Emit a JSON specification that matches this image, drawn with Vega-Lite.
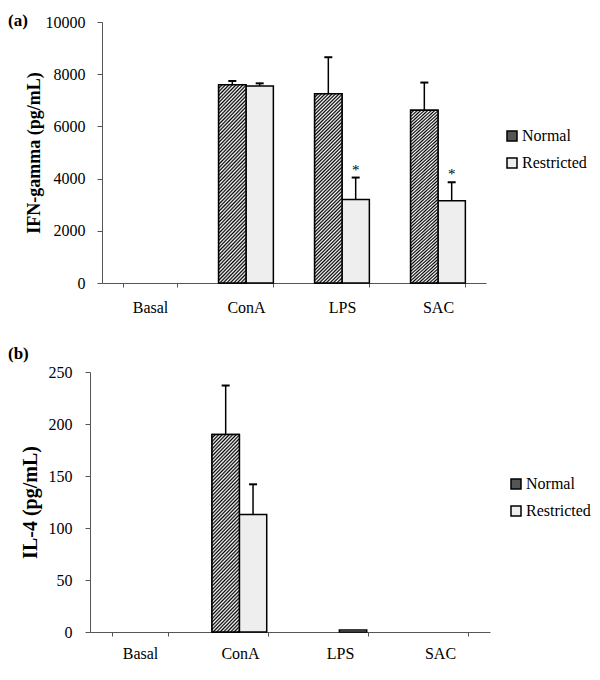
{
  "$schema": "https://vega.github.io/schema/vega-lite/v6.json",
  "background": "white",
  "padding": {"left": 8, "top": 12, "right": 5, "bottom": 5},
  "spacing": 30,
  "config": {
    "view": {"stroke": null},
    "font": "Liberation Serif",
    "axis": {"labelFont": "Liberation Serif", "labelFontSize": 16, "labelColor": "#000", "titleFont": "Liberation Serif", "titleFontWeight": "bold", "titleColor": "#000", "domainColor": "#555", "tickColor": "#555", "grid": false},
    "legend": {"orient": "none", "title": null, "symbolType": "square", "symbolSize": 100, "symbolStrokeColor": "#000", "symbolStrokeWidth": 1.5, "labelFont": "Liberation Serif", "labelFontSize": 16, "labelColor": "#000", "rowPadding": 11, "labelOffset": 2},
    "bar": {"fill": {"gradient": "linear", "x1": 0, "y1": 0, "x2": 0.16, "y2": 1.12, "stops": [
      {"offset": 0, "color": "#000"}, {"offset": 0.008, "color": "#fff"}, {"offset": 0.016, "color": "#000"}, {"offset": 0.024, "color": "#fff"},
      {"offset": 0.032, "color": "#000"}, {"offset": 0.04, "color": "#fff"}, {"offset": 0.048, "color": "#000"}, {"offset": 0.056, "color": "#fff"},
      {"offset": 0.064, "color": "#000"}, {"offset": 0.072, "color": "#fff"}, {"offset": 0.08, "color": "#000"}, {"offset": 0.088, "color": "#fff"},
      {"offset": 0.096, "color": "#000"}, {"offset": 0.104, "color": "#fff"}, {"offset": 0.112, "color": "#000"}, {"offset": 0.12, "color": "#fff"},
      {"offset": 0.128, "color": "#000"}, {"offset": 0.136, "color": "#fff"}, {"offset": 0.144, "color": "#000"}, {"offset": 0.152, "color": "#fff"},
      {"offset": 0.16, "color": "#000"}, {"offset": 0.168, "color": "#fff"}, {"offset": 0.176, "color": "#000"}, {"offset": 0.184, "color": "#fff"},
      {"offset": 0.192, "color": "#000"}, {"offset": 0.2, "color": "#fff"}, {"offset": 0.208, "color": "#000"}, {"offset": 0.216, "color": "#fff"},
      {"offset": 0.224, "color": "#000"}, {"offset": 0.232, "color": "#fff"}, {"offset": 0.24, "color": "#000"}, {"offset": 0.248, "color": "#fff"},
      {"offset": 0.256, "color": "#000"}, {"offset": 0.264, "color": "#fff"}, {"offset": 0.272, "color": "#000"}, {"offset": 0.28, "color": "#fff"},
      {"offset": 0.288, "color": "#000"}, {"offset": 0.296, "color": "#fff"}, {"offset": 0.304, "color": "#000"}, {"offset": 0.312, "color": "#fff"},
      {"offset": 0.32, "color": "#000"}, {"offset": 0.328, "color": "#fff"}, {"offset": 0.336, "color": "#000"}, {"offset": 0.344, "color": "#fff"},
      {"offset": 0.352, "color": "#000"}, {"offset": 0.36, "color": "#fff"}, {"offset": 0.368, "color": "#000"}, {"offset": 0.376, "color": "#fff"},
      {"offset": 0.384, "color": "#000"}, {"offset": 0.392, "color": "#fff"}, {"offset": 0.4, "color": "#000"}, {"offset": 0.408, "color": "#fff"},
      {"offset": 0.416, "color": "#000"}, {"offset": 0.424, "color": "#fff"}, {"offset": 0.432, "color": "#000"}, {"offset": 0.44, "color": "#fff"},
      {"offset": 0.448, "color": "#000"}, {"offset": 0.456, "color": "#fff"}, {"offset": 0.464, "color": "#000"}, {"offset": 0.472, "color": "#fff"},
      {"offset": 0.48, "color": "#000"}, {"offset": 0.488, "color": "#fff"}, {"offset": 0.496, "color": "#000"}, {"offset": 0.504, "color": "#fff"},
      {"offset": 0.512, "color": "#000"}, {"offset": 0.52, "color": "#fff"}, {"offset": 0.528, "color": "#000"}, {"offset": 0.536, "color": "#fff"},
      {"offset": 0.544, "color": "#000"}, {"offset": 0.552, "color": "#fff"}, {"offset": 0.56, "color": "#000"}, {"offset": 0.568, "color": "#fff"},
      {"offset": 0.576, "color": "#000"}, {"offset": 0.584, "color": "#fff"}, {"offset": 0.592, "color": "#000"}, {"offset": 0.6, "color": "#fff"},
      {"offset": 0.608, "color": "#000"}, {"offset": 0.616, "color": "#fff"}, {"offset": 0.624, "color": "#000"}, {"offset": 0.632, "color": "#fff"},
      {"offset": 0.64, "color": "#000"}, {"offset": 0.648, "color": "#fff"}, {"offset": 0.656, "color": "#000"}, {"offset": 0.664, "color": "#fff"},
      {"offset": 0.672, "color": "#000"}, {"offset": 0.68, "color": "#fff"}, {"offset": 0.688, "color": "#000"}, {"offset": 0.696, "color": "#fff"},
      {"offset": 0.704, "color": "#000"}, {"offset": 0.712, "color": "#fff"}, {"offset": 0.72, "color": "#000"}, {"offset": 0.728, "color": "#fff"},
      {"offset": 0.736, "color": "#000"}, {"offset": 0.744, "color": "#fff"}, {"offset": 0.752, "color": "#000"}, {"offset": 0.76, "color": "#fff"},
      {"offset": 0.768, "color": "#000"}, {"offset": 0.776, "color": "#fff"}, {"offset": 0.784, "color": "#000"}, {"offset": 0.792, "color": "#fff"},
      {"offset": 0.8, "color": "#000"}, {"offset": 0.808, "color": "#fff"}, {"offset": 0.816, "color": "#000"}, {"offset": 0.824, "color": "#fff"},
      {"offset": 0.832, "color": "#000"}, {"offset": 0.84, "color": "#fff"}, {"offset": 0.848, "color": "#000"}, {"offset": 0.856, "color": "#fff"},
      {"offset": 0.864, "color": "#000"}, {"offset": 0.872, "color": "#fff"}, {"offset": 0.88, "color": "#000"}, {"offset": 0.888, "color": "#fff"},
      {"offset": 0.896, "color": "#000"}, {"offset": 0.904, "color": "#fff"}, {"offset": 0.912, "color": "#000"}, {"offset": 0.92, "color": "#fff"},
      {"offset": 0.928, "color": "#000"}, {"offset": 0.936, "color": "#fff"}, {"offset": 0.944, "color": "#000"}, {"offset": 0.952, "color": "#fff"},
      {"offset": 0.96, "color": "#000"}, {"offset": 0.968, "color": "#fff"}, {"offset": 0.976, "color": "#000"}, {"offset": 0.984, "color": "#fff"},
      {"offset": 0.992, "color": "#000"}, {"offset": 1, "color": "#fff"}
    ]}}
  },
  "datasets": {
    "a": [
      {"cat": "Basal", "group": "Normal", "value": 0, "err": 0, "star": ""},
      {"cat": "Basal", "group": "Restricted", "value": 0, "err": 0, "star": ""},
      {"cat": "ConA", "group": "Normal", "value": 7600, "err": 7740, "star": ""},
      {"cat": "ConA", "group": "Restricted", "value": 7550, "err": 7650, "star": ""},
      {"cat": "LPS", "group": "Normal", "value": 7250, "err": 8650, "star": ""},
      {"cat": "LPS", "group": "Restricted", "value": 3200, "err": 4040, "star": "*"},
      {"cat": "SAC", "group": "Normal", "value": 6620, "err": 7680, "star": ""},
      {"cat": "SAC", "group": "Restricted", "value": 3150, "err": 3860, "star": "*"}
    ],
    "b": [
      {"cat": "Basal", "group": "Normal", "value": 0, "err": 0},
      {"cat": "Basal", "group": "Restricted", "value": 0, "err": 0},
      {"cat": "ConA", "group": "Normal", "value": 190, "err": 237},
      {"cat": "ConA", "group": "Restricted", "value": 113, "err": 142},
      {"cat": "LPS", "group": "Normal", "value": 0, "err": 0},
      {"cat": "LPS", "group": "Restricted", "value": 2, "err": 0},
      {"cat": "SAC", "group": "Normal", "value": 0, "err": 0},
      {"cat": "SAC", "group": "Restricted", "value": 0, "err": 0}
    ]
  },
  "resolve": {"scale": {"fill": "independent"}, "legend": {"fill": "independent"}},
  "vconcat": [
    {
      "title": {"text": "(a)", "anchor": "start", "frame": "bounds", "font": "Liberation Serif", "fontSize": 17, "fontWeight": "bold", "offset": -16, "dx": -17},
      "width": 384,
      "height": 261,
      "data": {"name": "a"},
      "encoding": {
        "x": {"field": "cat", "type": "nominal", "scale": {"domain": ["Basal", "ConA", "LPS", "SAC"], "paddingInner": 0.43, "paddingOuter": 0.215},
              "axis": {"title": null, "labelAngle": 0, "tickBand": "extent", "tickSize": 4, "labelPadding": 12, "labelFont": "Liberation Serif"}},
        "xOffset": {"field": "group", "type": "nominal", "scale": {"domain": ["Normal", "Restricted"]}}
      },
      "layer": [
        {
          "transform": [{"filter": "datum.value > 0"}],
          "mark": {"type": "bar", "stroke": "#000", "strokeWidth": 1.5},
          "encoding": {
            "y": {"field": "value", "type": "quantitative", "scale": {"domain": [0, 10000], "nice": false},
                  "axis": {"title": "IFN-gamma (pg/mL)", "format": "d", "values": [0, 2000, 4000, 6000, 8000, 10000], "tickSize": 5, "labelPadding": 12, "titleFontSize": 18, "titlePadding": 2, "labelFont": "Liberation Serif"}},
            "fill": {"field": "group", "type": "nominal", "scale": {"domain": ["Normal", "Restricted"], "range": ["#555555", "#eeeeee"]},
                     "legend": {"legendX": 402, "legendY": 106}}
          }
        },
        {
          "transform": [{"filter": "datum.group === 'Normal' && datum.value > 0"}],
          "mark": {"type": "bar", "stroke": "#000", "strokeWidth": 1.5},
          "encoding": {"y": {"field": "value", "type": "quantitative"}}
        },
        {
          "transform": [{"filter": "datum.err > 0"}],
          "mark": {"type": "rule", "color": "#000", "strokeWidth": 1.5},
          "encoding": {"y": {"field": "value", "type": "quantitative"}, "y2": {"field": "err"}}
        },
        {
          "transform": [{"filter": "datum.err > 0"}],
          "mark": {"type": "tick", "color": "#000", "thickness": 2, "size": 8, "opacity": 1},
          "encoding": {"y": {"field": "err", "type": "quantitative"}}
        },
        {
          "transform": [{"filter": "datum.star !== ''"}],
          "mark": {"type": "text", "fontSize": 15, "dy": -3, "baseline": "alphabetic", "color": "#000", "font": "Liberation Serif"},
          "encoding": {"y": {"field": "err", "type": "quantitative"}, "text": {"field": "star"}}
        }
      ]
    },
    {
      "title": {"text": "(b)", "anchor": "start", "frame": "bounds", "font": "Liberation Serif", "fontSize": 17, "fontWeight": "bold", "offset": 1, "dx": -12},
      "width": 388,
      "height": 260,
      "data": {"name": "b"},
      "encoding": {
        "x": {"field": "cat", "type": "nominal", "scale": {"domain": ["Basal", "ConA", "LPS", "SAC"], "range": [-12, 388], "paddingInner": 0.44, "paddingOuter": 0.22},
              "axis": {"title": null, "labelAngle": 0, "tickBand": "extent", "tickSize": 4, "labelPadding": 9, "labelFont": "Liberation Serif"}},
        "xOffset": {"field": "group", "type": "nominal", "scale": {"domain": ["Normal", "Restricted"]}}
      },
      "layer": [
        {
          "transform": [{"filter": "datum.value > 0"}],
          "mark": {"type": "bar", "stroke": "#000", "strokeWidth": 1.5},
          "encoding": {
            "y": {"field": "value", "type": "quantitative", "scale": {"domain": [0, 250], "nice": false},
                  "axis": {"title": "IL-4 (pg/mL)", "offset": 12, "values": [0, 50, 100, 150, 200, 250], "tickSize": 5, "labelPadding": 13, "titleFontSize": 20, "titlePadding": 8, "labelFont": "Liberation Serif"}},
            "fill": {"field": "group", "type": "nominal", "scale": {"domain": ["Normal", "Restricted"], "range": ["#555555", "#eeeeee"]},
                     "legend": {"legendX": 406, "legendY": 104}}
          }
        },
        {
          "transform": [{"filter": "datum.group === 'Normal' && datum.value > 0"}],
          "mark": {"type": "bar", "stroke": "#000", "strokeWidth": 1.5},
          "encoding": {"y": {"field": "value", "type": "quantitative"}}
        },
        {
          "transform": [{"filter": "datum.err > 0"}],
          "mark": {"type": "rule", "color": "#000", "strokeWidth": 1.5},
          "encoding": {"y": {"field": "value", "type": "quantitative"}, "y2": {"field": "err"}}
        },
        {
          "transform": [{"filter": "datum.err > 0"}],
          "mark": {"type": "tick", "color": "#000", "thickness": 2, "size": 8, "opacity": 1},
          "encoding": {"y": {"field": "err", "type": "quantitative"}}
        }
      ]
    }
  ]
}
